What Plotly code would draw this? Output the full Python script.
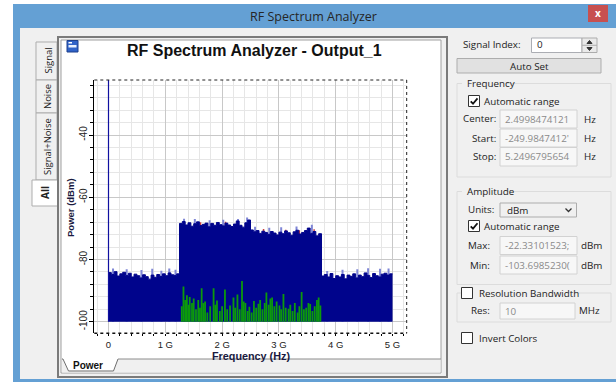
import plotly.graph_objects as go

W, H = 616, 382

# ---------------- data ----------------
FREQ_STEP_GHZ = 0.05
SPECTRUM_DBM = [
    -84.2, -84.8, -83.9, -85.3, -84.6, -84.1, -85.1, -84.4, -85.6, -84.7,
    -85.2, -85.9, -84.9, -85.5, -86.3, -85.0, -85.7, -84.8, -85.4, -84.6,
    -85.2, -84.3, -84.9, -85.1, -84.6,
    -68.4, -67.8, -68.9, -68.2, -69.3, -68.5, -67.9, -69.1, -68.7, -68.3,
    -69.5, -68.4, -69.0, -68.1, -68.8, -69.2, -68.3, -68.9, -69.4, -68.6,
    -67.6, -69.0, -69.6, -68.2, -67.3,
    -70.5, -71.1, -70.7, -71.6, -70.9, -71.3, -71.9, -71.0, -71.5, -72.1,
    -71.2, -71.7, -70.8, -71.4, -72.2, -71.1, -70.6, -71.8, -71.3, -70.7,
    -69.9, -71.6, -71.0, -72.4, -71.7,
    -85.3, -84.8, -85.6, -84.5, -86.1, -85.2, -85.6, -84.8, -86.2, -85.0,
    -85.4, -84.6, -85.9, -85.0, -85.5, -84.3, -85.1, -85.8, -84.5, -85.2,
    -85.6, -84.7, -84.4, -85.0, -84.6,
]
FREQ_EDGES_GHZ = [round(i * FREQ_STEP_GHZ, 3) for i in range(len(SPECTRUM_DBM) + 1)]

TIP_FREQ_GHZ = [0.08, 0.32, 0.58, 0.77, 0.93, 1.07, 1.18, 1.33, 1.52, 1.78, 2.02, 2.28,
                2.44, 2.58, 2.83, 3.04, 3.31, 3.58, 3.85, 4.12, 4.38, 4.57, 4.78, 4.93]
TIP_DBM = [-82.9, -83.1, -83.4, -83.0, -83.6, -82.9, -83.3, -66.9, -67.0, -67.4, -67.2, -67.0,
           -66.5, -69.5, -69.8, -69.6, -69.4, -68.8, -83.7, -83.3, -83.1, -82.8, -83.0, -82.9]

RED_FREQ_GHZ = [1.62, 2.06, 2.73, 3.12, 3.36, 3.62]
RED_DBM = [-68.0, -67.9, -70.2, -70.4, -70.6, -70.3]

GREEN_FREQ_GHZ = [1.29, 1.32, 1.35, 1.38, 1.41, 1.43, 1.47, 1.50, 1.54, 1.58, 1.61, 1.64, 1.67,
                  1.70, 1.74, 1.79, 1.85, 1.88, 1.91, 1.96, 2.00, 2.05, 2.09, 2.14, 2.20, 2.23,
                  2.27, 2.31, 2.35, 2.38, 2.41, 2.45, 2.48, 2.52, 2.56, 2.60, 2.64, 2.67, 2.71,
                  2.75, 2.78, 2.82, 2.85, 2.88, 2.92, 2.96, 3.01, 3.04, 3.08, 3.12, 3.17, 3.20,
                  3.24, 3.28, 3.33, 3.36, 3.40, 3.44, 3.48, 3.52, 3.55, 3.59, 3.63, 3.67, 3.70,
                  3.73]
GREEN_DBM = [-95.0, -88.7, -93.0, -91.5, -94.5, -92.0, -94.0, -92.5, -96.0, -93.0, -95.5, -89.2,
             -94.0, -93.5, -97.0, -95.0, -89.2, -94.5, -93.2, -96.5, -95.0, -89.6, -96.0, -94.8,
             -92.2, -95.5, -91.2, -96.0, -86.9, -93.5, -94.0, -96.5, -95.2, -97.0, -93.3, -95.5,
             -94.2, -93.0, -96.0, -94.0, -90.6, -94.5, -92.5, -92.2, -95.0, -93.5, -94.8, -96.0,
             -91.1, -95.5, -95.8, -94.5, -96.5, -94.0, -97.0, -95.0, -90.4, -96.0, -95.5, -94.0,
             -94.3, -96.5, -95.0, -93.0, -92.2, -94.8]

DC_FREQ_GHZ = 0.0
FLOOR_DBM = -100.0
X_RANGE = [-0.2499847412, 5.2496795654]
Y_RANGE = [-103.69852300, -22.331015232]
X_TICKS = [0, 1, 2, 3, 4, 5]
X_TICKTEXT = ["0", "1 G", "2 G", "3 G", "4 G", "5 G"]
Y_TICKS = [-100, -80, -60, -40]
Y_TICKTEXT = ["-100", "-80", "-60", "-40"]

# ---------------- helpers ----------------
def X(px):
    return px / W

def Y(py):
    return 1 - py / H

def stems(xs, ys, base):
    ox, oy = [], []
    for x, y in zip(xs, ys):
        ox += [x, x, None]
        oy += [base, y, None]
    return ox, oy

NAVY = "#00048C"
GUI_FONT = "Open Sans, Noto Sans, sans-serif"
CH_FONT = "Arial, Liberation Sans, sans-serif"

fig = go.Figure()

tx, ty = stems(TIP_FREQ_GHZ, TIP_DBM, FLOOR_DBM)
fig.add_trace(go.Scatter(x=tx, y=ty, mode="lines", line=dict(color="#7F86D6", width=2),
                         hoverinfo="skip"))
rx, ry = stems(RED_FREQ_GHZ, RED_DBM, FLOOR_DBM)
fig.add_trace(go.Scatter(x=rx, y=ry, mode="lines", line=dict(color="#C84040", width=1.5),
                         hoverinfo="skip"))
fig.add_trace(go.Scatter(x=[FREQ_EDGES_GHZ[0], FREQ_EDGES_GHZ[-1]], y=[FLOOR_DBM, FLOOR_DBM],
                         mode="lines", line=dict(width=0, color=NAVY), hoverinfo="skip"))
fig.add_trace(go.Scatter(x=FREQ_EDGES_GHZ, y=SPECTRUM_DBM + [SPECTRUM_DBM[-1]], mode="lines",
                         line=dict(color=NAVY, width=1, shape="hv"), fill="tonexty",
                         fillcolor=NAVY, hoverinfo="skip"))
gx, gy = stems(GREEN_FREQ_GHZ, GREEN_DBM, FLOOR_DBM)
fig.add_trace(go.Scatter(x=gx, y=gy, mode="lines", line=dict(color="#0C9A0C", width=1.8),
                         hoverinfo="skip"))
fig.add_trace(go.Scatter(x=[DC_FREQ_GHZ, DC_FREQ_GHZ], y=[FLOOR_DBM, Y_RANGE[1]], mode="lines",
                         line=dict(color="#1010A0", width=1.2), hoverinfo="skip"))

PLOT_L, PLOT_R, PLOT_T, PLOT_B = 94.3, 406.7, 80.0, 333.3

fig.update_layout(
    width=W, height=H, autosize=False,
    margin=dict(l=0, r=0, t=0, b=0, pad=0),
    paper_bgcolor="#F0F0F0", plot_bgcolor="white", showlegend=False,
    xaxis=dict(domain=[X(PLOT_L), X(PLOT_R)], range=X_RANGE, tickmode="array", automargin=False,
               tickvals=X_TICKS, ticktext=X_TICKTEXT, showgrid=True, gridcolor="#C8C8C8",
               gridwidth=1, zeroline=False, showline=False, ticks="outside", ticklen=2,
               tickcolor="black", tickfont=dict(family=CH_FONT, size=9.5, color="#222222"),
               minor=dict(tickmode="linear", tick0=0, dtick=0.2, showgrid=True,
                          gridcolor="#E6E6E6", ticks="outside", ticklen=2, tickcolor="black")),
    yaxis=dict(domain=[Y(PLOT_B), Y(PLOT_T)], range=Y_RANGE, tickmode="array", automargin=False,
               tickvals=Y_TICKS, ticktext=Y_TICKTEXT, tickangle=-90, showgrid=True,
               gridcolor="#C8C8C8", zeroline=False, showline=True, linecolor="black",
               linewidth=1, ticks="outside", ticklen=4, tickcolor="black",
               ticklabelstandoff=-2,
               tickfont=dict(family=CH_FONT, size=10, color="#222222"),
               minor=dict(tickmode="linear", tick0=-100, dtick=4, showgrid=True,
                          gridcolor="#E6E6E6", ticks="outside", ticklen=3, tickcolor="black")),
)

shapes = []
ann = []

def rect(x0, y0, x1, y1, fill=None, line=None, lw=1, layer="below"):
    shapes.append(dict(type="rect", xref="paper", yref="paper", x0=X(x0), x1=X(x1),
                       y0=Y(y1), y1=Y(y0), fillcolor=fill or "rgba(0,0,0,0)",
                       line=dict(color=line or "rgba(0,0,0,0)", width=lw if line else 0),
                       layer=layer))

def line(x0, y0, x1, y1, color, lw=1, dash="solid", layer="above"):
    shapes.append(dict(type="line", xref="paper", yref="paper", x0=X(x0), x1=X(x1),
                       y0=Y(y0), y1=Y(y1), line=dict(color=color, width=lw, dash=dash),
                       layer=layer))

def path(pts, color, lw=1, fill=None, close=False, layer="above"):
    d = "M " + " L ".join(f"{X(a):.5f},{Y(b):.5f}" for a, b in pts)
    if close:
        d += " Z"
    shapes.append(dict(type="path", xref="paper", yref="paper", path=d,
                       line=dict(color=color, width=lw),
                       fillcolor=fill or "rgba(0,0,0,0)", layer=layer))

def text(x, y, s, size=10, color="#222222", anchor="left", family=GUI_FONT, bold=False,
         angle=0):
    ann.append(dict(x=X(x), y=Y(y), xref="paper", yref="paper", showarrow=False,
                    text=f"<b>{s}</b>" if bold else s, xanchor=anchor, yanchor="middle",
                    textangle=angle, font=dict(family=family, size=size, color=color)))

# window chrome
BLUE = "#64A0D4"
rect(0, 0, 616, 382, fill="#FFFFFF")
rect(20, 28, 616, 379, fill="#F0F0F0")
rect(13, 4, 616, 28, fill=BLUE)
rect(13, 4, 20, 382, fill=BLUE)
rect(13, 379, 616, 382, fill=BLUE)
text(313, 16, "RF Spectrum Analyzer", size=12.5, color="#262626", anchor="center")
rect(588, 5, 608, 22, fill="#C75050")
text(598, 13, "x", size=10, color="white", anchor="center", bold=True)

# left vertical tabs
rect(36, 42, 57, 80, fill="#F0F0F0", line="#ADADAD")
rect(36, 80, 57, 113, fill="#F0F0F0", line="#ADADAD")
rect(36, 113, 57, 180, fill="#F0F0F0", line="#ADADAD")
rect(32, 180, 59, 206, fill="#FFFFFF", line="#ADADAD")
text(47.5, 61, "Signal", size=9.5, anchor="center", angle=-90)
text(47.5, 96.5, "Noise", size=9.5, anchor="center", angle=-90)
text(47.5, 146.5, "Signal+Noise", size=9.5, anchor="center", angle=-90)
text(45, 193, "All", size=10, anchor="center", angle=-90, bold=True)

# chart panel
rect(58, 37, 447, 377, fill="#F0F0F0", line="#7A7A7A", lw=2)
rect(61, 40, 441, 373, fill="#FFFFFF", line="#A0A0A0", lw=1)
rect(62, 359, 440.5, 372.5, fill="#F0F0F0")
line(118, 359, 441, 359, "#8C8C8C", 1)
path([(62, 359), (63, 359), (68.5, 371), (113.5, 371), (118, 359)], "#6E6E6E", 1,
     fill="#FFFFFF", layer="below")
text(88, 365.5, "Power", size=10, color="#111111", anchor="center", family=CH_FONT, bold=True)
# small icon
rect(67, 40.5, 78, 52, fill="#2F62C8", line="#1C3F8C", lw=1, layer="above")
rect(68.5, 45, 76.5, 47.5, fill="#E8F0FF", layer="above")
rect(68.5, 42, 72, 43.5, fill="#FFFFFF", layer="above")

# plot frame: dotted top / right / bottom
line(PLOT_L, PLOT_T, PLOT_R, PLOT_T, "#222222", 1, "dot")
line(PLOT_R, PLOT_T, PLOT_R, PLOT_B, "#222222", 1, "dot")
line(PLOT_L, PLOT_B, PLOT_R, PLOT_B, "#111111", 1.6, "dot")

text(254, 51, "RF Spectrum Analyzer - Output_1", size=16, color="#111111", anchor="center",
     family=CH_FONT, bold=True)
text(251, 355.5, "Frequency (Hz)", size=10.8, color="#1A1A40", anchor="center",
     family=CH_FONT, bold=True)
text(70.5, 207.5, "Power (dBm)", size=9.5, color="#1A1A40", anchor="center",
     family=CH_FONT, bold=True, angle=-90)

# right panel controls
GRAY_TXT = "#8A8A8A"
text(461, 45, "Signal Index:", size=9.8)
rect(531.5, 38, 582, 52.5, fill="white", line="#ABADB3")
text(535, 45, "0", size=9.8)
rect(582, 38, 597, 52.5, fill="#EAEAEA", line="#ACACAC")
line(582, 45.25, 597, 45.25, "#ACACAC", 1)
path([(587, 43.5), (589.5, 40.5), (592, 43.5)], "#333333", 1, fill="#333333", close=True)
path([(587, 47.5), (589.5, 50.5), (592, 47.5)], "#333333", 1, fill="#333333", close=True)

rect(457, 58.5, 601, 73, fill="#E1E1E1", line="#ADADAD")
text(529, 66, "Auto Set", size=9.8, anchor="center")


def groupbox(x0, y0, x1, y1, label_w):
    line(x0, y0, x0, y1, "#DCDCDC", 1)
    line(x1, y0, x1, y1, "#DCDCDC", 1)
    line(x0, y1, x1, y1, "#DCDCDC", 1)
    line(x0, y0, x0 + 5, y0, "#DCDCDC", 1)
    line(x0 + 7 + label_w, y0, x1, y0, "#DCDCDC", 1)


def checkbox(x0, y0, checked):
    rect(x0, y0, x0 + 11, y0 + 11, fill="white", line="#333333", layer="above")
    if checked:
        path([(x0 + 2.2, y0 + 5.8), (x0 + 4.5, y0 + 8.2), (x0 + 9, y0 + 2.8)], "#111111", 1.8)


def field(x0, y0, x1, y1, s):
    rect(x0, y0, x1, y1, fill="#F7F7F7", line="#D2D2D2")
    text(x0 + 3, (y0 + y1) / 2, s, size=9.8, color=GRAY_TXT)


groupbox(457, 83.5, 611, 177, 42)
text(465, 83.5, "Frequency", size=9.8)
checkbox(468.5, 95.5, True)
text(482, 101, "Automatic range", size=9.8)
text(497.5, 118.5, "Center:", size=9.8, anchor="right")
field(500, 110, 577, 128, "2.4998474121")
text(582, 119, "Hz", size=9.8)
text(497.5, 138, "Start:", size=9.8, anchor="right")
field(500, 129, 577, 147, "-249.9847412'")
text(582, 138.5, "Hz", size=9.8)
text(497.5, 156.5, "Stop:", size=9.8, anchor="right")
field(500, 147.5, 577, 166, "5.2496795654")
text(582, 157, "Hz", size=9.8)

groupbox(457, 191.5, 611, 284.5, 44)
text(465, 191.5, "Amplitude", size=9.8)
text(466, 209.5, "Units:", size=9.8)
rect(500, 203, 576.5, 217, fill="#F0F0F0", line="#ACACAC")
text(505, 210, "dBm", size=9.8)
path([(565.5, 208.5), (568.5, 211.5), (571.5, 208.5)], "#333333", 1.3)
checkbox(468.5, 220.5, True)
text(482, 226, "Automatic range", size=9.8)
text(492, 245.5, "Max:", size=9.8, anchor="right")
field(500, 236.5, 577, 254.5, "-22.33101523;")
text(578.5, 245.5, "dBm", size=9.8)
text(492, 265, "Min:", size=9.8, anchor="right")
field(500, 256, 577, 274, "-103.6985230(")
text(578.5, 265.5, "dBm", size=9.8)

groupbox(457, 293, 611, 322, 110)
checkbox(461.5, 287.5, False)
text(477, 293, "Resolution Bandwidth", size=9.8)
text(492, 310.5, "Res:", size=9.8, anchor="right")
field(500, 303, 575, 319, "10")
text(576.5, 310.5, "MHz", size=9.8)

checkbox(461.5, 332.5, False)
text(477, 338.5, "Invert Colors", size=9.8)

fig.update_layout(shapes=shapes, annotations=ann)
fig.write_html("out.html")
